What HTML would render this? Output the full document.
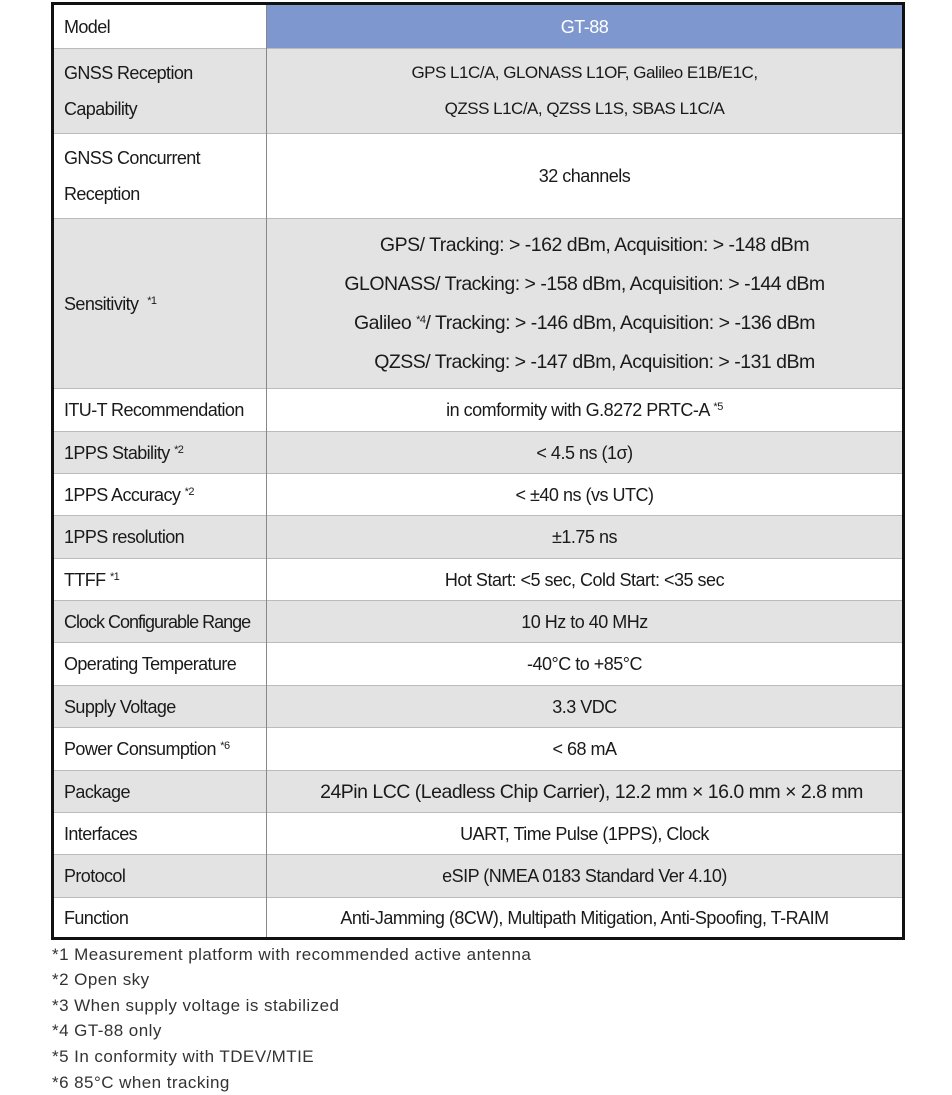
<!DOCTYPE html>
<html><head><meta charset="utf-8"><style>
body{margin:0;width:952px;height:1095px;background:#fff;font-family:"Liberation Sans",sans-serif;color:#1a1a1a;position:relative;overflow:hidden}
.tbl{position:absolute;left:51px;top:2px;width:848px;height:932px;border:3px solid #111;}
.r{position:absolute;left:0;width:848px;border-top:1px solid #bbb;box-sizing:border-box}
.g{background:#e3e3e4}
.l{position:absolute;left:10px;top:0;bottom:0;display:flex;flex-direction:column;justify-content:center;font-size:18px;letter-spacing:-0.6px;line-height:36px}
.v{position:absolute;left:213px;right:0;top:0;bottom:0;display:flex;flex-direction:column;justify-content:center;align-items:center;font-size:18px;letter-spacing:-0.5px;line-height:36px;text-align:center}
.div{position:absolute;left:212px;top:0;width:1px;height:932px;background:#888}
sup{font-size:11px;vertical-align:6px;line-height:0}
.fn{position:absolute;left:52px;font-size:17px;color:#333;letter-spacing:0.45px}
</style></head><body>
<div class="tbl">
<div class="r" style="top:0;height:43px;border-top:none"><div class="l"><div>Model</div></div><div class="v" style="background:#7f97cf;color:#fff"><div>GT-88</div></div></div>
<div class="r g" style="top:43px;height:85px"><div class="l"><div>GNSS Reception<br>Capability</div></div><div class="v" style="font-size:17px"><div>GPS L1C/A, GLONASS L1OF, Galileo E1B/E1C,<br>QZSS L1C/A, QZSS L1S, SBAS L1C/A</div></div></div>
<div class="r" style="top:128px;height:85px"><div class="l"><div>GNSS Concurrent<br>Reception</div></div><div class="v"><div>32 channels</div></div></div>
<div class="r g" style="top:213px;height:170px"><div class="l"><div>Sensitivity&nbsp; <sup>*1</sup></div></div><div class="v" style="line-height:39px;font-size:19.5px">
<div style="padding-left:20px">GPS/ Tracking: &gt; -162 dBm, Acquisition: &gt; -148 dBm</div>
<div>GLONASS/ Tracking: &gt; -158 dBm, Acquisition: &gt; -144 dBm</div>
<div>Galileo <sup>*4</sup>/ Tracking: &gt; -146 dBm, Acquisition: &gt; -136 dBm</div>
<div style="padding-left:20px">QZSS/ Tracking: &gt; -147 dBm, Acquisition: &gt; -131 dBm</div></div></div>
<div class="r" style="top:383px;height:43px"><div class="l"><div>ITU-T Recommendation</div></div><div class="v"><div>in comformity with G.8272 PRTC-A <sup>*5</sup></div></div></div>
<div class="r g" style="top:426px;height:42px"><div class="l"><div>1PPS Stability <sup>*2</sup></div></div><div class="v"><div>&lt; 4.5 ns (1σ)</div></div></div>
<div class="r" style="top:468px;height:42px"><div class="l"><div>1PPS Accuracy <sup>*2</sup></div></div><div class="v"><div>&lt; ±40 ns (vs UTC)</div></div></div>
<div class="r g" style="top:510px;height:43px"><div class="l"><div>1PPS resolution</div></div><div class="v"><div>±1.75 ns</div></div></div>
<div class="r" style="top:553px;height:42px"><div class="l"><div>TTFF <sup>*1</sup></div></div><div class="v"><div>Hot Start: &lt;5 sec, Cold Start: &lt;35 sec</div></div></div>
<div class="r g" style="top:595px;height:42px"><div class="l" style="letter-spacing:-1px"><div>Clock Configurable Range</div></div><div class="v"><div>10 Hz to 40 MHz</div></div></div>
<div class="r" style="top:637px;height:43px"><div class="l"><div>Operating Temperature</div></div><div class="v"><div>-40°C to +85°C</div></div></div>
<div class="r g" style="top:680px;height:42px"><div class="l"><div>Supply Voltage</div></div><div class="v"><div>3.3 VDC</div></div></div>
<div class="r" style="top:722px;height:43px"><div class="l"><div>Power Consumption <sup>*6</sup></div></div><div class="v"><div>&lt; 68 mA</div></div></div>
<div class="r g" style="top:765px;height:42px"><div class="l"><div>Package</div></div><div class="v" style="font-size:19.5px"><div style="padding-left:14px">24Pin LCC (Leadless Chip Carrier), 12.2 mm × 16.0 mm × 2.8 mm</div></div></div>
<div class="r" style="top:807px;height:42px"><div class="l"><div>Interfaces</div></div><div class="v"><div>UART, Time Pulse (1PPS), Clock</div></div></div>
<div class="r g" style="top:849px;height:43px"><div class="l"><div>Protocol</div></div><div class="v"><div>eSIP (NMEA 0183 Standard Ver 4.10)</div></div></div>
<div class="r" style="top:892px;height:40px"><div class="l"><div>Function</div></div><div class="v"><div>Anti-Jamming (8CW), Multipath Mitigation, Anti-Spoofing, T-RAIM</div></div></div>
<div class="div"></div>
</div>
<div class="fn" style="top:945px">*1 Measurement platform with recommended active antenna</div>
<div class="fn" style="top:970px">*2 Open sky</div>
<div class="fn" style="top:996px">*3 When supply voltage is stabilized</div>
<div class="fn" style="top:1021px">*4 GT-88 only</div>
<div class="fn" style="top:1047px">*5 In conformity with TDEV/MTIE</div>
<div class="fn" style="top:1073px">*6 85°C when tracking</div>
</body></html>
